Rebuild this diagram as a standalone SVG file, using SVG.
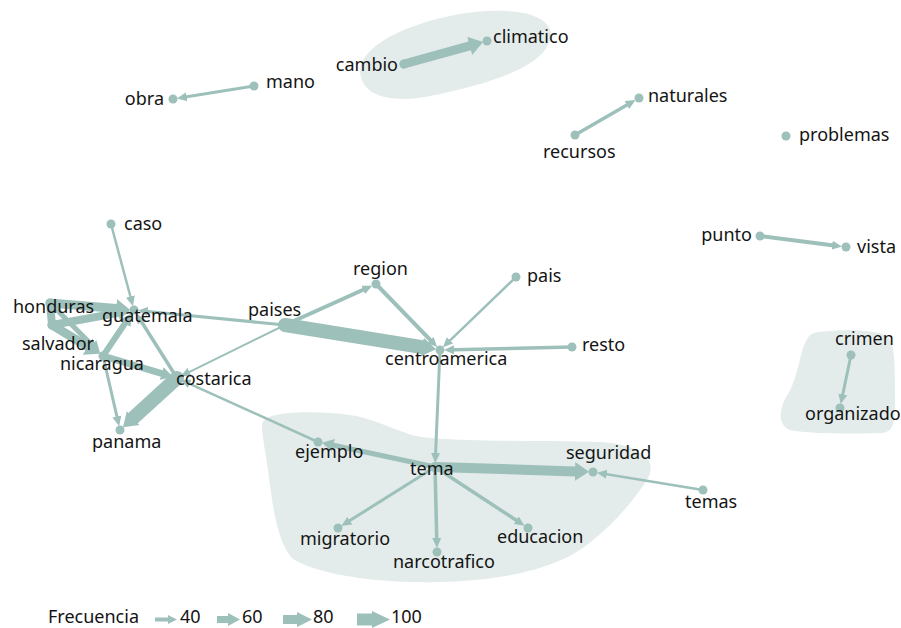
<svg xmlns="http://www.w3.org/2000/svg" width="901" height="628" viewBox="0 0 901 628">
<style>
.hull{fill:#e3ecea;stroke:none}
.e{stroke:#9dc0bb;fill:none;stroke-linecap:round}
.dot{fill:#9dc0bb}
.lbl{font-family:"Noto Sans","Liberation Sans",sans-serif;font-size:18px;fill:#141414}
.leg{fill:#9dc0bb}
</style>
<defs>
<marker id="m1" markerUnits="userSpaceOnUse" viewBox="0 -5 10 10" markerWidth="10" markerHeight="10" refX="0" refY="0" orient="auto"><path d="M0,-4.5 L10,0 L0,4.5 Z" fill="#9dc0bb"/></marker>
<marker id="m2" markerUnits="userSpaceOnUse" viewBox="0 -7 12 14" markerWidth="12" markerHeight="14" refX="0" refY="0" orient="auto"><path d="M0,-6.5 L12,0 L0,6.5 Z" fill="#9dc0bb"/></marker>
<marker id="m3" markerUnits="userSpaceOnUse" viewBox="0 -10 14 20" markerWidth="14" markerHeight="20" refX="0" refY="0" orient="auto"><path d="M0,-9.5 L14,0 L0,9.5 Z" fill="#9dc0bb"/></marker>
</defs>
<rect width="901" height="628" fill="#ffffff"/>
<g id="hulls">
<path class="hull" d="M362,80 C350,52 398,25 460,14 C522,4 562,18 548,45 C536,70 480,86 430,96 C395,103 368,97 362,80 Z"/>
<path class="hull" d="M262,425 C262,412 300,410 343,414 C380,418 400,436 430,438 C480,442 540,440 600,442 C640,444 658,460 648,478 C635,500 612,525 593,540 C565,565 515,580 440,582 C370,584 310,572 292,558 C276,540 272,500 268,470 C265,450 262,435 262,425 Z"/>
<path class="hull" d="M818,332 C845,329 872,330 885,335 C895,340 895,360 895,400 C895,425 893,433 880,433 C850,434 810,434 790,430 C778,425 778,410 788,394 C798,378 800,352 806,341 C809,335 812,333 818,332 Z"/>
</g>
<g id="connectors">
<line class="e" x1="404" y1="64" x2="469.6" y2="45.8" stroke-width="9" marker-end="url(#m3)"/>
<line class="e" x1="254" y1="86" x2="186.8" y2="96.8" stroke-width="3" marker-end="url(#m1)"/>
<line class="e" x1="575" y1="135" x2="626.9" y2="105" stroke-width="3.5" marker-end="url(#m1)"/>
<line class="e" x1="760" y1="236" x2="832.1" y2="245.2" stroke-width="4" marker-end="url(#m1)"/>
<line class="e" x1="851" y1="355" x2="842.8" y2="394.3" stroke-width="3" marker-end="url(#m1)"/>
<line class="e" x1="111" y1="224" x2="130.4" y2="296.5" stroke-width="2.5" marker-end="url(#m1)"/>
<line class="e" x1="50" y1="303" x2="116.1" y2="308.5" stroke-width="9" marker-end="url(#m3)"/>
<line class="e" x1="50" y1="303" x2="52" y2="325" stroke-width="8"/>
<line class="e" x1="52" y1="325" x2="118.3" y2="312.9" stroke-width="8" marker-end="url(#m2)"/>
<line class="e" x1="52" y1="325" x2="87.6" y2="346.6" stroke-width="9" marker-end="url(#m3)"/>
<line class="e" x1="50" y1="303" x2="91.7" y2="344.7" stroke-width="5" marker-end="url(#m2)"/>
<line class="e" x1="103" y1="356" x2="125.1" y2="323.3" stroke-width="6" marker-end="url(#m2)"/>
<line class="e" x1="103" y1="356" x2="161.7" y2="373.5" stroke-width="7" marker-end="url(#m2)"/>
<line class="e" x1="103" y1="356" x2="116.9" y2="416.4" stroke-width="3" marker-end="url(#m1)"/>
<line class="e" x1="177" y1="378" x2="133.3" y2="417.9" stroke-width="14" marker-end="url(#m3)"/>
<line class="e" x1="177" y1="378" x2="141.5" y2="321.8" stroke-width="3.5" marker-end="url(#m1)"/>
<line class="e" x1="285" y1="325" x2="147.9" y2="311.4" stroke-width="3" marker-end="url(#m1)"/>
<line class="e" x1="285" y1="325" x2="189.6" y2="371.8" stroke-width="2" marker-end="url(#m1)"/>
<line class="e" x1="318" y1="442" x2="189.8" y2="383.8" stroke-width="2.5" marker-end="url(#m1)"/>
<line class="e" x1="285" y1="325" x2="363.2" y2="289.8" stroke-width="4" marker-end="url(#m1)"/>
<line class="e" x1="285" y1="325" x2="422.2" y2="347.1" stroke-width="14" marker-end="url(#m3)"/>
<line class="e" x1="376" y1="284" x2="430.2" y2="339.9" stroke-width="4" marker-end="url(#m1)"/>
<line class="e" x1="516" y1="277" x2="450.1" y2="340.3" stroke-width="2.5" marker-end="url(#m1)"/>
<line class="e" x1="572" y1="347" x2="454" y2="349.7" stroke-width="3.5" marker-end="url(#m1)"/>
<line class="e" x1="440" y1="350" x2="435.6" y2="453" stroke-width="3" marker-end="url(#m1)"/>
<line class="e" x1="435" y1="467" x2="333.6" y2="445.3" stroke-width="5" marker-end="url(#m2)"/>
<line class="e" x1="435" y1="467" x2="575" y2="471.4" stroke-width="10" marker-end="url(#m3)"/>
<line class="e" x1="703" y1="490" x2="606.8" y2="474.3" stroke-width="2.5" marker-end="url(#m1)"/>
<line class="e" x1="435" y1="467" x2="349.8" y2="520.6" stroke-width="3" marker-end="url(#m1)"/>
<line class="e" x1="435" y1="467" x2="436.7" y2="538" stroke-width="3.5" marker-end="url(#m1)"/>
<line class="e" x1="435" y1="467" x2="516.3" y2="520.3" stroke-width="3.5" marker-end="url(#m1)"/>
</g>
<g id="node-cambio"><circle class="dot" cx="404" cy="64" r="4.5"/><text class="lbl" x="398" y="71" text-anchor="end">cambio</text></g>
<g id="node-climatico"><circle class="dot" cx="487" cy="41" r="4.5"/><text class="lbl" x="493" y="43">climatico</text></g>
<g id="node-mano"><circle class="dot" cx="254" cy="86" r="4.5"/><text class="lbl" x="266" y="88">mano</text></g>
<g id="node-obra"><circle class="dot" cx="173" cy="99" r="4.5"/><text class="lbl" x="164" y="105" text-anchor="end">obra</text></g>
<g id="node-recursos"><circle class="dot" cx="575" cy="135" r="4.5"/><text class="lbl" x="543" y="158">recursos</text></g>
<g id="node-naturales"><circle class="dot" cx="639" cy="98" r="4.5"/><text class="lbl" x="648" y="102">naturales</text></g>
<g id="node-problemas"><circle class="dot" cx="786" cy="136" r="4.5"/><text class="lbl" x="799" y="141">problemas</text></g>
<g id="node-punto"><circle class="dot" cx="760" cy="236" r="4.5"/><text class="lbl" x="752" y="241" text-anchor="end">punto</text></g>
<g id="node-vista"><circle class="dot" cx="846" cy="247" r="4.5"/><text class="lbl" x="857" y="253">vista</text></g>
<g id="node-crimen"><circle class="dot" cx="851" cy="355" r="4.5"/><text class="lbl" x="835" y="345">crimen</text></g>
<g id="node-organizado"><circle class="dot" cx="840" cy="408" r="4.5"/><text class="lbl" x="805" y="420">organizado</text></g>
<g id="node-caso"><circle class="dot" cx="111" cy="224" r="4.5"/><text class="lbl" x="124" y="230">caso</text></g>
<g id="node-honduras"><circle class="dot" cx="50" cy="303" r="4.5"/><text class="lbl" x="13" y="313">honduras</text></g>
<g id="node-guatemala"><circle class="dot" cx="134" cy="310" r="4.5"/><text class="lbl" x="102" y="322">guatemala</text></g>
<g id="node-salvador"><circle class="dot" cx="52" cy="325" r="4.5"/><text class="lbl" x="22" y="350">salvador</text></g>
<g id="node-nicaragua"><circle class="dot" cx="103" cy="356" r="4.5"/><text class="lbl" x="60" y="370">nicaragua</text></g>
<g id="node-costarica"><circle class="dot" cx="177" cy="378" r="4.5"/><text class="lbl" x="176" y="385">costarica</text></g>
<g id="node-panama"><circle class="dot" cx="120" cy="430" r="4.5"/><text class="lbl" x="92" y="448">panama</text></g>
<g id="node-paises"><circle class="dot" cx="285" cy="325" r="4.5"/><text class="lbl" x="248" y="316">paises</text></g>
<g id="node-region"><circle class="dot" cx="376" cy="284" r="4.5"/><text class="lbl" x="353" y="275">region</text></g>
<g id="node-pais"><circle class="dot" cx="516" cy="277" r="4.5"/><text class="lbl" x="527" y="282">pais</text></g>
<g id="node-centroamerica"><circle class="dot" cx="440" cy="350" r="4.5"/><text class="lbl" x="385" y="365">centroamerica</text></g>
<g id="node-resto"><circle class="dot" cx="572" cy="347" r="4.5"/><text class="lbl" x="582" y="351">resto</text></g>
<g id="node-ejemplo"><circle class="dot" cx="318" cy="442" r="4.5"/><text class="lbl" x="295" y="458">ejemplo</text></g>
<g id="node-tema"><circle class="dot" cx="435" cy="467" r="4.5"/><text class="lbl" x="410" y="475">tema</text></g>
<g id="node-seguridad"><circle class="dot" cx="593" cy="472" r="4.5"/><text class="lbl" x="566" y="459">seguridad</text></g>
<g id="node-temas"><circle class="dot" cx="703" cy="490" r="4.5"/><text class="lbl" x="685" y="508">temas</text></g>
<g id="node-migratorio"><circle class="dot" cx="338" cy="528" r="4.5"/><text class="lbl" x="300" y="545">migratorio</text></g>
<g id="node-narcotrafico"><circle class="dot" cx="437" cy="552" r="4.5"/><text class="lbl" x="393" y="568">narcotrafico</text></g>
<g id="node-educacion"><circle class="dot" cx="528" cy="528" r="4.5"/><text class="lbl" x="497" y="543">educacion</text></g>
<g id="legend">
<text class="lbl" x="48" y="623">Frecuencia</text>
<path class="leg" d="M155,617.5 H168 V615 L177,619.5 L168,624 V621.5 H155 Z"/>
<text class="lbl" x="180" y="623">40</text>
<path class="leg" d="M217,616 H228 V613 L240,619.5 L228,626 V623 H217 Z"/>
<text class="lbl" x="242" y="623">60</text>
<path class="leg" d="M283,615 H297 V612 L312,619.5 L297,627 V624 H283 Z"/>
<text class="lbl" x="313" y="623">80</text>
<path class="leg" d="M357,613.5 H372 V611 L390,619.5 L372,628 V625.5 H357 Z"/>
<text class="lbl" x="391" y="623">100</text>
</g>
</svg>
